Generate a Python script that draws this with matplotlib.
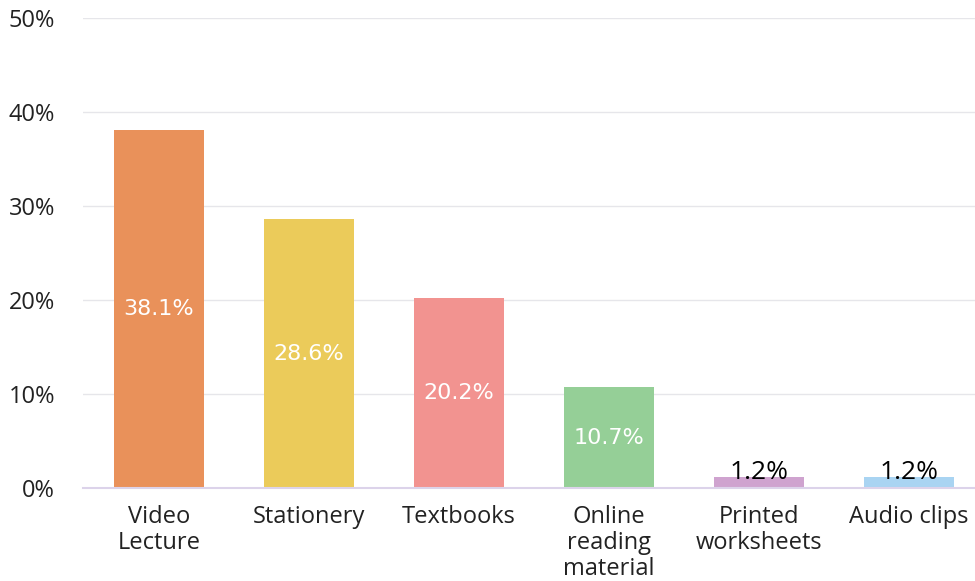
import matplotlib
matplotlib.use("Agg")
import matplotlib.pyplot as plt

categories = ["Video\nLecture", "Stationery", "Textbooks", "Online\nreading\nmaterial",
              "Printed\nworksheets", "Audio clips"]
values = [38.1, 28.6, 20.2, 10.7, 1.2, 1.2]
colors = ["#E9915A", "#EBCB5A", "#F29390", "#95CF97", "#CFA3CF", "#A9D4F2"]
yticks = [0, 10, 20, 30, 40, 50]
ytick_labels = ["0%", "10%", "20%", "30%", "40%", "50%"]

W, H = 975, 581
fig = plt.figure(figsize=(W / 100, H / 100), dpi=100)
ax = fig.add_axes([83 / W, (H - 488) / H, (W - 83) / W, 470 / H])
plt.rcParams['font.family'] = ['Open Sans', 'DejaVu Sans']

x = list(range(len(categories)))
ax.bar(x, values, width=0.6, color=colors, zorder=2)
ax.set_xlim(-0.507, 5.44)
ax.set_ylim(0, 50)
ax.set_yticks(yticks)
ax.set_yticklabels(ytick_labels, fontsize=17, color="#222222", family="Open Sans")
ax.set_xticks(x)
ax.set_xticklabels(categories, fontsize=17, color="#222222", family="Open Sans",
                   linespacing=1.12)
ax.tick_params(axis="both", length=0)
ax.tick_params(axis="y", pad=20)
ax.tick_params(axis="x", pad=12)
ax.grid(axis="y", color="#E6E6EA", linewidth=1, zorder=0)
for s in ["top", "right", "left"]:
    ax.spines[s].set_visible(False)
ax.spines["bottom"].set_color("#DCD3EA")
ax.spines["bottom"].set_linewidth(1.5)
ax.spines["bottom"].set_zorder(3)

for xi, v in zip(x, values):
    if v > 5:
        ax.text(xi, v / 2, f"{v}%", ha="center", va="center", fontsize=16,
                color="white", family="DejaVu Sans", zorder=4)
    else:
        ax.text(xi, v + 0.5, f"{v}%", ha="center", va="center", fontsize=19,
                color="black", family="Open Sans", zorder=4)

fig.savefig("out.png", dpi=100)
